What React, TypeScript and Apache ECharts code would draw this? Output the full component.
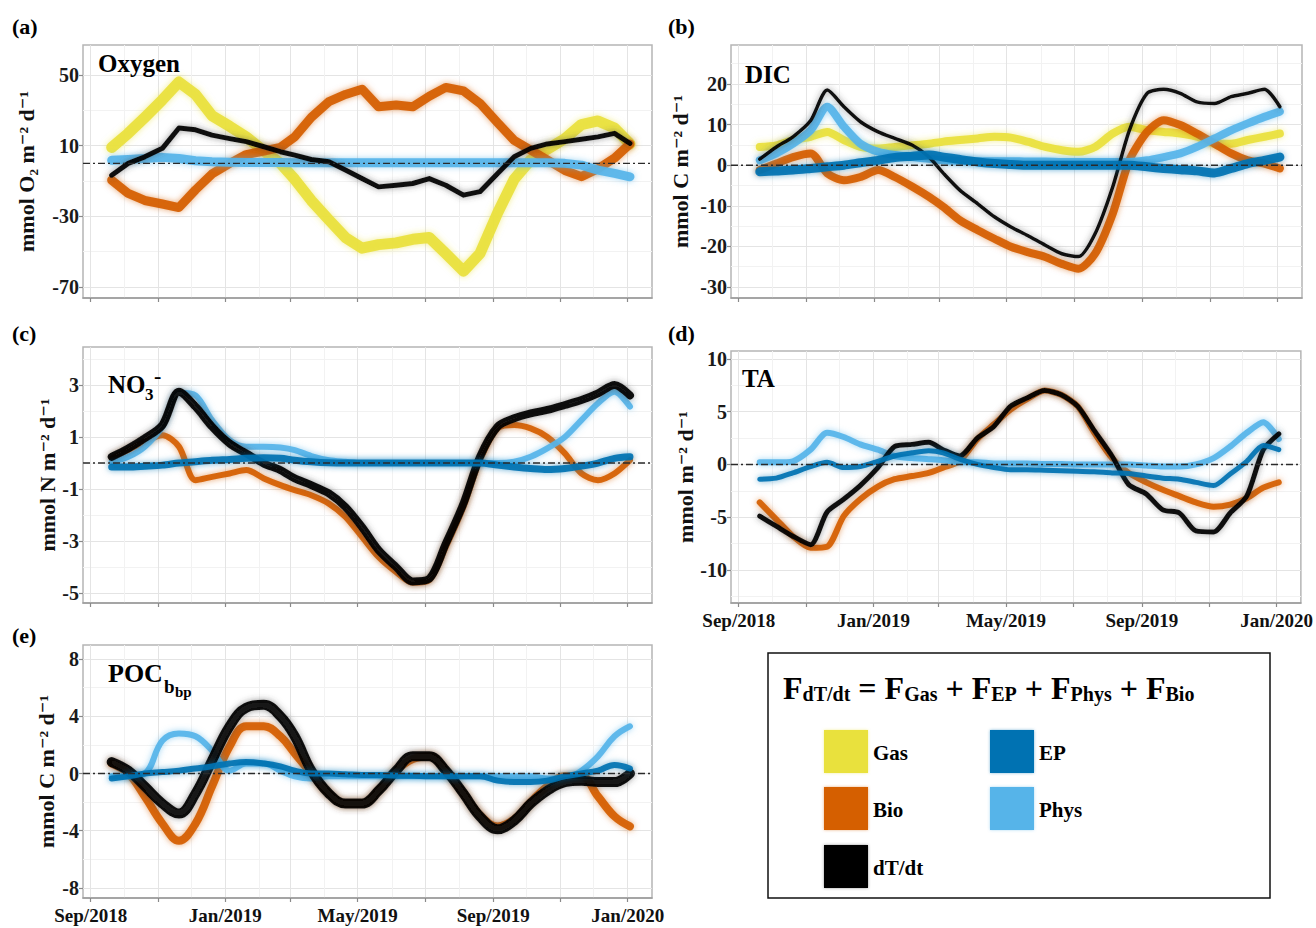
import React, { useEffect, useRef } from "react";
import * as echarts from "echarts";

// ---------- shared x (time) data ----------
const dates = [
  "2018-09-20", "2018-10-05", "2018-10-20", "2018-11-05", "2018-11-20", "2018-12-05", "2018-12-20",
  "2019-01-05", "2019-01-20", "2019-02-05", "2019-02-20", "2019-03-05", "2019-03-20", "2019-04-05",
  "2019-04-20", "2019-05-05", "2019-05-20", "2019-06-05", "2019-06-20", "2019-07-05", "2019-07-20",
  "2019-08-05", "2019-08-20", "2019-09-05", "2019-09-20", "2019-10-05", "2019-10-20", "2019-11-05",
  "2019-11-20", "2019-12-05", "2019-12-20", "2020-01-03",
];
const xRange = ["2018-08-25", "2020-01-23"];
const xMajorTicks = ["2018-09-01", "2018-11-01", "2019-01-01", "2019-03-01", "2019-05-01", "2019-07-01", "2019-09-01", "2019-11-01", "2020-01-01"];
const xMinorTicks = ["2018-10-01", "2018-12-01", "2019-02-01", "2019-04-01", "2019-06-01", "2019-08-01", "2019-10-01", "2019-12-01"];
const xLabelTicks = ["2018-09-01", "2019-01-01", "2019-05-01", "2019-09-01", "2020-01-01"];
const monthNames = ["Jan", "Feb", "Mar", "Apr", "May", "Jun", "Jul", "Aug", "Sep", "Oct", "Nov", "Dec"];

// ---------- (a) Oxygen ----------
const oxyGas = [9, 17, 26, 36, 46, 39, 27, 21, 15, 7, 0, -9, -21, -32, -42, -48, -46, -45, -43, -42, -51, -61, -51, -28, -9, 2, 8, 14, 22, 24, 20, 11];
const oxyBio = [-9.5, -17, -21, -23, -25, -15, -6, 0, 5, 7, 9, 15, 26, 35, 39, 42, 32, 33, 32, 38, 43, 41, 34, 23, 13, 7.5, 2, -4, -7.5, -3, 3, 11];
const oxyDtdt = [-6.7, 0, 3.7, 8.5, 20, 19, 16, 14, 12.3, 9.4, 6.6, 4.7, 2.2, 0.9, -3.8, -8.6, -13.3, -12.4, -11.4, -8.6, -12.4, -18, -16, -5.7, 3.7, 8.5, 11, 12.3, 13.6, 15, 17, 11.3];
const oxyPhys = [1.8, 2.2, 2.8, 3.4, 2.8, 1.5, 0.9, 0.6, 0.5, 0.5, 0.5, 0.4, 0.4, 0.4, 0.4, 0.4, 0.4, 0.4, 0.4, 0.4, 0.4, 0.4, 0.4, 0.4, 0.4, 0.4, 0.3, 0, -1, -3.8, -5.7, -7.6];
const oxyTicks = [-70, -30, 10, 50];
const oxyMinor = [-50, -10, 30];

// ---------- (b) DIC ----------
const dicGas = [4.5, 4.9, 6.2, 7, 8.2, 6.2, 4.5, 4.1, 4.5, 4.9, 5.3, 5.8, 6.2, 6.6, 7, 6.8, 5.8, 4.5, 3.7, 3.3, 4.5, 7.8, 9.5, 8.6, 8.2, 7.8, 7, 5.3, 5.3, 6.2, 7, 7.8];
const dicBio = [-1.2, 0.4, 2, 2.9, -2, -3.7, -2.9, -1.2, -2.9, -5.3, -7.8, -10.3, -13.6, -16, -18.1, -20.1, -21.4, -22.6, -24.3, -25.5, -21.8, -11.9, 1.2, 8.2, 11.1, 9.9, 7.8, 5.3, 2.9, 1.2, 0.4, -0.8];
const dicDtdt = [1.5, 4.5, 7, 11, 18.5, 14.4, 10.7, 8.2, 6.6, 4.9, 2, -2, -6.2, -9.5, -12.7, -15.2, -17.3, -19.7, -21.8, -22.5, -16.9, -5.3, 8.6, 17.7, 18.7, 17.7, 15.6, 15.2, 16.9, 17.7, 18.7, 14.4];
const dicPhys = [1.2, 2.9, 5.3, 8.6, 14.4, 9.5, 5.3, 3.3, 2.5, 2, 1.6, 1.2, 1.1, 1, 1, 1, 0.9, 0.9, 0.8, 0.8, 0.8, 0.8, 0.8, 1.2, 2, 2.9, 4.5, 6.6, 8.6, 10.3, 11.9, 13.2];
const dicEP = [-1.6, -1.4, -1.2, -0.8, -0.4, 0, 0.6, 1.2, 1.9, 2.2, 2.5, 2, 1.4, 0.8, 0.4, 0.2, 0, 0, 0, 0, 0, 0, 0, -0.4, -0.8, -1.1, -1.4, -1.9, -0.8, 0.4, 1.2, 2];
const dicTicks = [-30, -20, -10, 0, 10, 20];
const dicMinor = [-25, -15, -5, 5, 15, 25];

// ---------- (c) NO3- ----------
const no3Bio = [0.18, 0.5, 0.82, 1.07, 0.63, -0.66, -0.53, -0.4, -0.27, -0.59, -0.85, -1.04, -1.24, -1.56, -2.07, -2.84, -3.61, -4.19, -4.6, -4.5, -3.23, -1.69, 0.11, 1.33, 1.46, 1.33, 1.0, 0.37, -0.4, -0.66, -0.4, 0.11];
const no3Dtdt = [0.24, 0.56, 0.95, 1.46, 2.74, 2.17, 1.4, 0.75, 0.37, -0.02, -0.27, -0.59, -0.85, -1.17, -1.69, -2.46, -3.35, -4.0, -4.55, -4.45, -3.1, -1.56, 0.24, 1.4, 1.72, 1.91, 2.04, 2.23, 2.42, 2.68, 3.0, 2.6];
const no3Phys = [0.05, 0.24, 0.63, 1.4, 2.7, 2.6, 1.65, 0.88, 0.63, 0.63, 0.6, 0.5, 0.27, 0.11, 0.05, 0, 0, 0, 0, 0, 0, 0, 0, 0, 0.05, 0.24, 0.56, 1.0, 1.65, 2.3, 2.74, 2.17];
const no3EP = [-0.15, -0.15, -0.12, -0.08, 0, 0.05, 0.11, 0.14, 0.18, 0.2, 0.18, 0.11, 0.05, 0.01, 0, 0, 0, 0, 0, 0, 0, 0, 0, -0.08, -0.15, -0.21, -0.25, -0.21, -0.12, 0, 0.18, 0.24];
const no3Ticks = [-5, -3, -1, 1, 3];
const no3Minor = [-4, -2, 0, 2, 4];

// ---------- (d) TA ----------
const taBio = [-3.6, -5.2, -6.8, -7.9, -7.8, -4.9, -3.3, -2.1, -1.4, -1.1, -0.8, -0.3, 0.3, 2.4, 3.8, 5.2, 6.2, 7.0, 6.6, 5.5, 3.0, 0.6, -0.8, -1.7, -2.4, -3.0, -3.6, -4.0, -3.8, -3.2, -2.2, -1.7];
const taDtdt = [-4.9, -5.85, -6.8, -7.6, -4.5, -3.3, -2.0, -0.3, 1.7, 1.9, 2.1, 1.4, 0.8, 2.5, 3.6, 5.5, 6.3, 7.0, 6.6, 5.5, 3.2, 0.8, -1.9, -2.8, -4.3, -4.6, -6.3, -6.4, -4.6, -3.0, 1.4, 2.9];
const taPhys = [0.2, 0.2, 0.3, 1.4, 3.0, 2.6, 1.9, 1.4, 0.8, 0.6, 0.5, 0.4, 0.2, 0.2, 0.1, 0.1, 0.1, 0.05, 0.05, 0, 0, 0, 0, -0.1, -0.2, -0.2, 0, 0.6, 1.7, 3.0, 4.0, 2.4];
const taEP = [-1.4, -1.3, -0.8, -0.2, 0.2, -0.3, -0.2, 0.3, 0.8, 1.1, 1.3, 1.1, 0.5, 0, -0.3, -0.5, -0.5, -0.55, -0.6, -0.65, -0.7, -0.8, -0.85, -1.1, -1.3, -1.4, -1.7, -2.0, -0.9, 0.3, 1.8, 1.4];
const taTicks = [-10, -5, 0, 5, 10];
const taMinor = [-12.5, -7.5, -2.5, 2.5, 7.5];

// ---------- (e) POC_bbp ----------
const pocBio = [0.7, 0, -1.6, -3.5, -4.7, -3.5, -0.9, 1.9, 3.3, 3.3, 2.6, 1.4, 0, -1.4, -2.1, -2.1, -1.2, 0.2, 1.0, 1.2, 0.2, -1.4, -2.9, -3.7, -3.2, -2.0, -0.9, -0.2, -0.2, -1.6, -3.0, -3.7];
const pocDtdt = [0.8, 0.2, -0.9, -2.1, -2.8, -1.4, 0.9, 3.3, 4.6, 4.8, 4.0, 2.6, 0.2, -1.4, -2.1, -2.1, -1.2, 0.2, 1.2, 1.2, 0.2, -1.4, -3.0, -3.9, -3.3, -2.1, -1.2, -0.6, -0.5, -0.6, -0.6, 0];
const pocPhys = [-0.2, -0.2, 0, 2.3, 2.8, 2.6, 1.6, 0.2, 0.7, 0.7, 0.2, -0.2, -0.35, -0.2, -0.2, -0.2, -0.2, -0.2, -0.2, -0.2, -0.2, -0.2, -0.2, -0.2, -0.2, -0.2, -0.35, -0.35, 0.2, 1.2, 2.6, 3.3];
const pocEP = [-0.35, -0.2, 0, 0.1, 0.2, 0.35, 0.5, 0.7, 0.8, 0.7, 0.5, 0.2, 0, 0, -0.05, -0.1, -0.1, -0.15, -0.15, -0.2, -0.2, -0.2, -0.2, -0.5, -0.6, -0.6, -0.5, -0.2, 0, 0.2, 0.6, 0.35];
const pocTicks = [-8, -4, 0, 4, 8];
const pocMinor = [-6, -2, 2, 6];

// ---------- styling ----------
const SERIF = '"Liberation Serif", "DejaVu Serif", serif';
const COLORS: Record<string, string> = {
  Gas: "#E9E13C",
  Bio: "#D55E00",
  "dT/dt": "#000000",
  EP: "#0072B2",
  Phys: "#56B4E9",
};

const toMs = (s: string) => {
  const [y, m, d] = s.split("-").map(Number);
  return Date.UTC(y, m - 1, d);
};
const fmtX = (v: number) => {
  const d = new Date(v);
  return `${monthNames[d.getUTCMonth()]}/${d.getUTCFullYear()}`;
};
const rgba = (hex: string, a: number) => {
  const n = parseInt(hex.slice(1), 16);
  return `rgba(${(n >> 16) & 255},${(n >> 8) & 255},${n & 255},${a})`;
};

type LineDef = [string, number[], number];
type Panel = {
  left: number; top: number; width: number; height: number;
  yMin: number; yMax: number; ticks: number[]; minor: number[];
  yName: string; nameGap: number; xLabels: boolean; smooth: number | boolean;
  lines: LineDef[];
};

const panels: Panel[] = [
  {
    left: 83, top: 45, width: 569, height: 253, yMin: -76.2, yMax: 67, ticks: oxyTicks, minor: oxyMinor,
    yName: "mmol O₂ m⁻² d⁻¹", nameGap: 46, xLabels: false, smooth: false,
    lines: [["Gas", oxyGas, 11], ["Bio", oxyBio, 9], ["Phys", oxyPhys, 9], ["dT/dt", oxyDtdt, 5]],
  },
  {
    left: 731, top: 45, width: 571, height: 253, yMin: -32.7, yMax: 29.6, ticks: dicTicks, minor: dicMinor,
    yName: "mmol C m⁻² d⁻¹", nameGap: 40, xLabels: false, smooth: 0.25,
    lines: [["Gas", dicGas, 8], ["Bio", dicBio, 8], ["Phys", dicPhys, 8], ["dT/dt", dicDtdt, 3.5], ["EP", dicEP, 9]],
  },
  {
    left: 83, top: 347, width: 569, height: 256, yMin: -5.38, yMax: 4.46, ticks: no3Ticks, minor: no3Minor,
    yName: "mmol N m⁻² d⁻¹", nameGap: 24, xLabels: false, smooth: 0.3,
    lines: [["Bio", no3Bio, 6], ["Phys", no3Phys, 6], ["dT/dt", no3Dtdt, 8], ["EP", no3EP, 7]],
  },
  {
    left: 731, top: 351, width: 571, height: 252, yMin: -13.13, yMax: 10.75, ticks: taTicks, minor: taMinor,
    yName: "mmol m⁻² d⁻¹", nameGap: 32, xLabels: true, smooth: 0.25,
    lines: [["Bio", taBio, 6], ["Phys", taPhys, 6], ["dT/dt", taDtdt, 5], ["EP", taEP, 5]],
  },
  {
    left: 83, top: 645, width: 569, height: 253, yMin: -8.7, yMax: 8.98, ticks: pocTicks, minor: pocMinor,
    yName: "mmol C m⁻² d⁻¹", nameGap: 26, xLabels: true, smooth: 0.4,
    lines: [["Bio", pocBio, 8], ["Phys", pocPhys, 6], ["dT/dt", pocDtdt, 10], ["EP", pocEP, 6]],
  },
];

function buildOption() {
  const xMin = toMs(xRange[0]);
  const xMax = toMs(xRange[1]);
  const majorX = xMajorTicks.map(toMs);
  const minorX = xMinorTicks.map(toMs);
  const labelX = xLabelTicks.map(toMs);
  const xs = dates.map(toMs);

  const grid: any[] = [];
  const xAxis: any[] = [];
  const yAxis: any[] = [];
  const series: any[] = [];

  panels.forEach((p, i) => {
    grid.push({
      left: p.left, top: p.top, width: p.width, height: p.height,
      show: true, borderColor: "#B5B5B5", borderWidth: 1.5, backgroundColor: "#FFFFFF",
    });
    xAxis.push({
      type: "value", gridIndex: i, min: xMin, max: xMax,
      axisLine: { show: true, onZero: false, lineStyle: { color: "#9A9A9A", width: 1.5 } },
      axisTick: { show: true, length: 4, lineStyle: { color: "#8A8A8A", width: 1.2 }, customValues: majorX },
      axisLabel: {
        show: p.xLabels, customValues: labelX, formatter: fmtX, fontFamily: SERIF,
        fontWeight: "bold", fontSize: 19, color: "#111", margin: 8,
      },
      splitLine: { show: true, lineStyle: { color: "#E4E4E4", width: 1 } },
    });
    xAxis.push({
      type: "value", gridIndex: i, min: xMin, max: xMax,
      axisLine: { show: false }, axisTick: { show: false, customValues: minorX },
      axisLabel: { show: false, customValues: minorX },
      splitLine: { show: true, lineStyle: { color: "#F2F2F2", width: 1 } },
    });
    yAxis.push({
      type: "value", gridIndex: i, min: p.yMin, max: p.yMax,
      name: p.yName, nameLocation: "middle", nameGap: p.nameGap, nameRotate: 90,
      nameTextStyle: { fontFamily: SERIF, fontWeight: "bold", fontSize: 22, color: "#111" },
      axisLine: { show: false },
      axisTick: { show: true, length: 4, lineStyle: { color: "#8A8A8A", width: 1.2 }, customValues: p.ticks },
      axisLabel: { customValues: p.ticks, fontFamily: SERIF, fontWeight: "bold", fontSize: 20, color: "#1A1A1A", margin: 4 },
      splitLine: { show: true, lineStyle: { color: "#E4E4E4", width: 1 } },
    });
    yAxis.push({
      type: "value", gridIndex: i, min: p.yMin, max: p.yMax,
      axisLine: { show: false }, axisTick: { show: false, customValues: p.minor },
      axisLabel: { show: false, customValues: p.minor },
      splitLine: { show: true, lineStyle: { color: "#F2F2F2", width: 1 } },
    });
    p.lines.forEach(([name, vals, w], k) => {
      const c = COLORS[name];
      series.push({
        type: "line", name, xAxisIndex: 2 * i, yAxisIndex: 2 * i,
        data: xs.map((x, j) => [x, vals[j]]),
        symbol: "none", smooth: p.smooth, silent: true, z: 2 + k * 0.01,
        lineStyle: {
          color: c, width: w, opacity: 0.92, cap: "round", join: "round",
          shadowBlur: 6, shadowColor: rgba(c === "#000000" ? "#444444" : c, 0.6),
        },
        itemStyle: { color: c },
      });
    });
    // zero reference line (dot-dash)
    series.push({
      type: "line", name: "zero", xAxisIndex: 2 * i, yAxisIndex: 2 * i,
      data: [[xMin, 0], [xMax, 0]], symbol: "none", silent: true, z: 5,
      lineStyle: { color: "#2A2A2A", width: 1.4, type: [7, 3, 2, 3] },
    });
  });

  const txt = (x: number, y: number, text: string, size: number, extra: any = {}) => ({
    type: "text", left: x, top: y, silent: true, z: 100,
    style: { text, fontFamily: SERIF, fontWeight: "bold", fontSize: size, fill: "#000", ...extra },
  });

  const graphic: any[] = [
    txt(12, 15, "(a)", 22), txt(668, 15, "(b)", 22), txt(12, 322, "(c)", 22),
    txt(668, 322, "(d)", 22), txt(12, 624, "(e)", 22),
    txt(98, 51, "Oxygen", 25), txt(745, 62, "DIC", 25), txt(742, 366, "TA", 25),
    // NO3- title: base, subscript, superscript
    txt(108, 372, "NO", 25), txt(145, 386, "3", 17), txt(154, 364, "-", 22),
    // POC_bbp title: base, subscript, sub-subscript
    txt(108, 660, "POC", 26), txt(164, 677, "b", 19), txt(175, 684, "bp", 15),
    // legend box
    {
      type: "rect", silent: true, z: 90,
      shape: { x: 768, y: 653, width: 502, height: 245 },
      style: { fill: "#FFFFFF", stroke: "#111", lineWidth: 1.5 },
    },
    {
      type: "text", left: 783, top: 672, silent: true, z: 100,
      style: {
        text: "{F|F}{s|dT/dt}{F| = F}{s|Gas}{F| + F}{s|EP}{F| + F}{s|Phys}{F| + F}{s|Bio}",
        rich: {
          F: { fontFamily: SERIF, fontWeight: "bold", fontSize: 32, lineHeight: 34, verticalAlign: "bottom", fill: "#000" },
          s: { fontFamily: SERIF, fontWeight: "bold", fontSize: 20, lineHeight: 10, verticalAlign: "bottom", fill: "#000" },
        },
      },
    },
  ];

  const legendItems: [string, number, number][] = [
    ["Gas", 824, 730], ["Bio", 824, 787], ["dT/dt", 824, 845], ["EP", 990, 730], ["Phys", 990, 787],
  ];
  legendItems.forEach(([name, x, y]) => {
    graphic.push({
      type: "rect", silent: true, z: 100,
      shape: { x, y, width: 44, height: 43 },
      style: { fill: COLORS[name], shadowBlur: 3, shadowColor: rgba(COLORS[name] === "#000000" ? "#333333" : COLORS[name], 0.5) },
    });
    graphic.push({
      type: "text", x: x + 49, y: y + 23, silent: true, z: 100,
      style: {
        text: name, fontFamily: SERIF, fontWeight: "bold", fontSize: 21, fill: "#000",
        verticalAlign: "middle", align: "left",
      },
    });
  });

  return {
    animation: false,
    backgroundColor: "#FFFFFF",
    textStyle: { fontFamily: SERIF },
    grid, xAxis, yAxis, series, graphic,
  };
}

export default function App() {
  const ref = useRef<HTMLDivElement | null>(null);
  useEffect(() => {
    if (!ref.current) return;
    const chart = echarts.init(ref.current, undefined, { renderer: "svg" });
    chart.setOption(buildOption() as any);
    return () => chart.dispose();
  }, []);
  return (
    <div
      ref={ref}
      style={{ position: "fixed", left: 0, top: 0, width: 1316, height: 928, background: "#fff" }}
    />
  );
}
